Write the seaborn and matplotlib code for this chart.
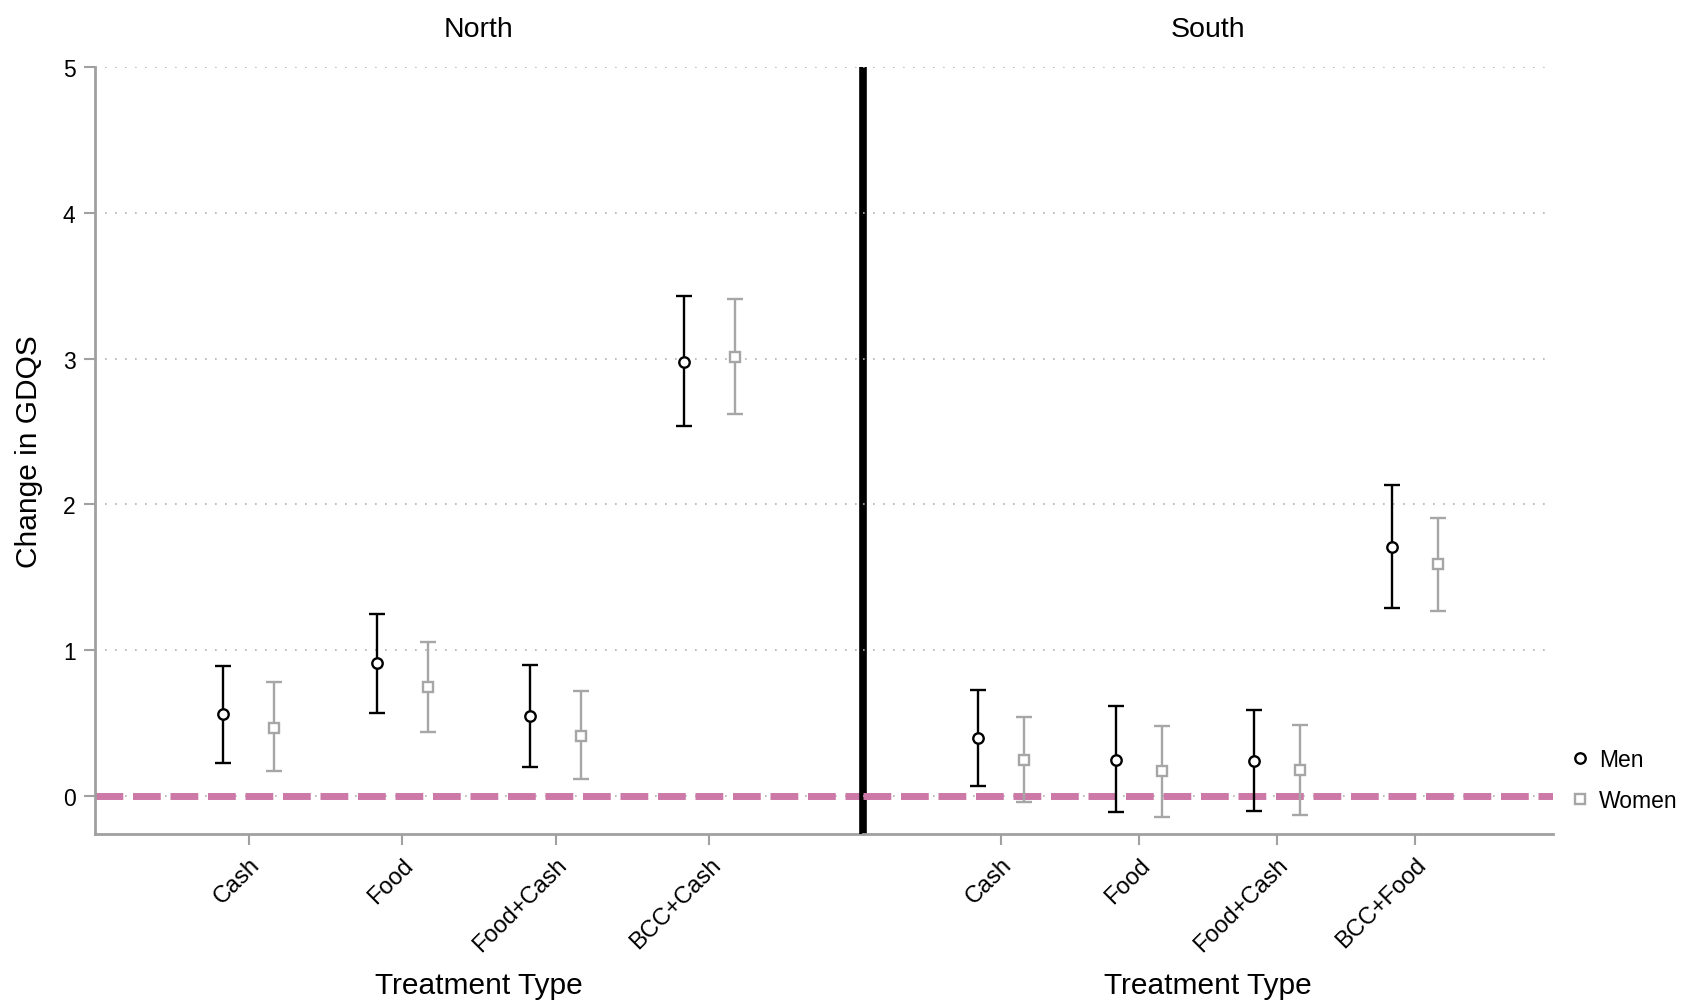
import numpy as np
import pandas as pd
import matplotlib
matplotlib.use("Agg")
import matplotlib.pyplot as plt
from matplotlib.lines import Line2D
import seaborn as sns

# ---- data ----
north_treatments = ["Cash", "Food", "Food+Cash", "BCC+Cash"]
south_treatments = ["Cash", "Food", "Food+Cash", "BCC+Food"]

north_men = [0.56, 0.91, 0.55, 2.98]
north_men_lo = [0.23, 0.57, 0.20, 2.54]
north_men_hi = [0.89, 1.25, 0.90, 3.43]
north_women = [0.47, 0.75, 0.41, 3.01]
north_women_lo = [0.17, 0.44, 0.12, 2.62]
north_women_hi = [0.78, 1.06, 0.72, 3.41]

south_men = [0.40, 0.25, 0.24, 1.71]
south_men_lo = [0.07, -0.11, -0.10, 1.29]
south_men_hi = [0.73, 0.62, 0.59, 2.13]
south_women = [0.25, 0.17, 0.18, 1.59]
south_women_lo = [-0.04, -0.14, -0.13, 1.27]
south_women_hi = [0.54, 0.48, 0.49, 1.91]

regions = ["North", "South"]
groups = ["Men", "Women"]
yticks = [0, 1, 2, 3, 4, 5]

sns.set_theme(style="white")
plt.rcParams["font.family"] = ["Liberation Sans", "DejaVu Sans"]
plt.rcParams["text.color"] = "black"
plt.rcParams["axes.labelcolor"] = "black"
plt.rcParams["xtick.labelcolor"] = "black"
plt.rcParams["ytick.labelcolor"] = "black"

fig = plt.figure(figsize=(16.94, 10.04), dpi=100)
bottom, top = 0.1683, 0.9323
axL = fig.add_axes([0.0561, bottom, 0.5094 - 0.0561, top - bottom])
axR = fig.add_axes([0.5094, bottom, 0.9168 - 0.5094, top - bottom])

men_color = "black"
women_color = "#a6a6a6"
pink = "#cc79a7"
offset = 0.166

panels = [
    (axL, north_treatments, north_men, north_men_lo, north_men_hi,
     north_women, north_women_lo, north_women_hi, regions[0]),
    (axR, south_treatments, south_men, south_men_lo, south_men_hi,
     south_women, south_women_lo, south_women_hi, regions[1]),
]

for ax, cats, m, mlo, mhi, w, wlo, whi, title in panels:
    pos = np.arange(1, len(cats) + 1)
    m = np.array(m); w = np.array(w)
    ax.errorbar(pos - offset, m, yerr=[m - np.array(mlo), np.array(mhi) - m],
                fmt="o", color=men_color, mfc="white", mec=men_color, ms=7.5, mew=1.7,
                ecolor=men_color, elinewidth=1.7, capsize=6, capthick=1.9, zorder=4)
    ax.errorbar(pos + offset, w, yerr=[w - np.array(wlo), np.array(whi) - w],
                fmt="s", color=women_color, mfc="white", mec=women_color, ms=7.5, mew=1.7,
                ecolor=women_color, elinewidth=1.7, capsize=6, capthick=1.9, zorder=4)
    ax.set_xlim(0, 5)
    ax.set_ylim(-0.26, 5)
    for yv in yticks:
        ax.axhline(yv, color="#b0b0b0", lw=1.2, ls=(0, (1, 5)), zorder=1)
    ax.axhline(0, color=pink, lw=5, ls=(0, (4, 1.4)), zorder=2)
    ax.set_xticks(pos)
    ax.set_xticklabels(cats, rotation=45, ha="right", rotation_mode="anchor", fontsize=17)
    ax.tick_params(axis="x", length=8, width=1.5, color="#a0a0a0", direction="out",
                   bottom=True, pad=6)
    ax.set_xlabel("Treatment Type", fontsize=21.5, va="center")
    ax.xaxis.set_label_coords(0.5, -0.197)
    ax.set_title(title, fontsize=20.5, pad=22)
    for s in ["top", "right"]:
        ax.spines[s].set_visible(False)
    ax.spines["bottom"].set_color("#a0a0a0")
    ax.spines["bottom"].set_linewidth(2)
    ax.set_facecolor("none")

axL.set_yticks(yticks)
axL.set_yticklabels([str(v) for v in yticks], fontsize=16.5)
axL.tick_params(axis="y", length=8, width=1.5, color="#a0a0a0", left=True, pad=6)
axL.spines["left"].set_color("#a0a0a0")
axL.spines["left"].set_linewidth(2)
axL.set_ylabel("Change in GDQS", fontsize=21.5, labelpad=14)

axR.set_yticks([])
axR.spines["left"].set_visible(False)

# thick separator between panels
axL.axvline(5, ymin=0, ymax=1, color="black", lw=5.5, zorder=6, clip_on=False,
            solid_capstyle="butt")

handles = [
    Line2D([], [], marker="o", ls="none", mfc="white", mec=men_color, ms=7.5, mew=1.7),
    Line2D([], [], marker="s", ls="none", mfc="white", mec=women_color, ms=7.5, mew=1.7),
]
fig.legend(handles, groups, loc="center left", bbox_to_anchor=(0.914, 0.222),
           frameon=False, fontsize=16.5, handletextpad=0.3, labelspacing=0.8,
           handlelength=1.0)

fig.savefig("out.png", dpi=100)
